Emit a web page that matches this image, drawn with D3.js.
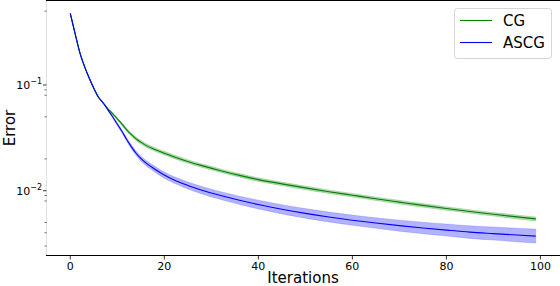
<!DOCTYPE html>
<html>
<head>
<meta charset="utf-8">
<script src="https://cdn.jsdelivr.net/npm/d3@7"></script>
<style>
  body { margin: 0; background: #fff; }
  svg { display: block; font-family: "DejaVu Sans", sans-serif; }
</style>
</head>
<body>
<div id="chart"></div>
<script>
const iters = [0,1,2,3,4,5,6,7,8,9,10,11,12,13,14,15,16,18,20,22,25,28,32,36,40,45,50,55,60,65,70,75,80,85,90,95,99];

const cgErr = [0.476,0.309,0.205,0.151,0.117,0.0933,0.0767,0.0676,
  0.0596,0.0537,0.0479,0.0427,0.0376,0.0339,0.0309,0.0288,0.0270,
  0.02455,0.02265,0.02099,0.01892,0.01726,0.01545,0.01396,0.01274,
  0.01161,0.01064,0.00979,0.00906,0.00839,0.00780,0.00726,0.00678,0.00635,0.00598,0.00565,
  0.00541];

const ascgErr = [0.476,0.309,0.205,0.151,0.117,0.0933,0.0767,0.0676,
  0.0582,0.0501,0.0427,0.0363,0.0305,0.0260,0.0226,0.02018,0.01841,
  0.01596,0.01406,0.01268,0.01122,0.01012,0.00899,0.00811,0.00740,
  0.00667,0.00610,0.00564,0.00526,0.00494,0.00467,0.00444,0.00424,0.00406,0.00393,0.00381,
  0.00372];

// relative half-width of the shaded band
const cgSpread = [0.005,0.005,0.005,0.005,0.005,0.005,0.008,0.01,
  0.015,0.02,0.025,0.03,0.035,0.035,0.04,0.04,0.04,
  0.04,0.04,0.04,0.04,0.04,0.04,0.04,0.04,
  0.04,0.04,0.04,0.04,0.04,0.04,0.04,0.04,0.04,0.04,0.045,
  0.045];

const ascgSpread = [0.005,0.005,0.005,0.005,0.005,0.005,0.008,0.01,
  0.015,0.02,0.03,0.035,0.04,0.045,0.05,0.055,0.06,
  0.065,0.07,0.075,0.08,0.085,0.09,0.095,0.10,
  0.105,0.11,0.113,0.117,0.122,0.128,0.134,0.14,0.147,0.153,0.16,
  0.165];

const xTicks = [0, 20, 40, 60, 80, 100];
const yMajor = [0.1, 0.01];
const yMinor = [0.5, 0.09, 0.08, 0.05, 0.02, 0.009, 0.008, 0.005, 0.004, 0.003];

const series = [
  {name: "CG", values: cgErr, spread: cgSpread, color: "#008000"},
  {name: "ASCG", values: ascgErr, spread: ascgSpread, color: "#0000ff"}
];

const width = 560, height = 286;
const svg = d3.select("#chart").append("svg")
  .attr("width", width)
  .attr("height", height);

const x = d3.scaleLinear().domain([-4.95, 103.95]).range([47, 559]);
const y = d3.scaleLog().domain([Math.pow(10, -2.613), Math.pow(10, -0.2006)]).range([255.5, 0.5]);

// bands
series.forEach(s => {
  const pts = iters.map((it, i) => ({
    it: it,
    lo: s.values[i] / (1 + s.spread[i]),
    hi: s.values[i] * (1 + s.spread[i])
  }));
  svg.append("path")
    .datum(pts)
    .attr("fill", s.color)
    .attr("fill-opacity", 0.3)
    .attr("stroke", s.color)
    .attr("stroke-opacity", 0.3)
    .attr("stroke-width", 0.5)
    .attr("d", d3.area()
      .x(d => x(d.it))
      .y0(d => y(d.lo))
      .y1(d => y(d.hi))
      .curve(d3.curveMonotoneX));
});

// lines
series.forEach(s => {
  svg.append("path")
    .datum(iters.map((it, i) => [it, s.values[i]]))
    .attr("fill", "none")
    .attr("stroke", s.color)
    .attr("stroke-width", 1.1)
    .attr("d", d3.line()
      .x(d => x(d[0]))
      .y(d => y(d[1]))
      .curve(d3.curveMonotoneX));
});

// spines
svg.append("line").attr("x1", 46.5).attr("x2", 46.5).attr("y1", 0).attr("y2", 256)
  .attr("stroke", "#e0e0e0").attr("stroke-width", 1);
svg.append("line").attr("x1", 46).attr("x2", 560).attr("y1", 0.5).attr("y2", 0.5)
  .attr("stroke", "#000").attr("stroke-width", 1.2);
svg.append("line").attr("x1", 46).attr("x2", 560).attr("y1", 255.5).attr("y2", 255.5)
  .attr("stroke", "#000").attr("stroke-width", 1.2);

// x ticks
const xg = svg.append("g");
xTicks.forEach(t => {
  xg.append("line").attr("x1", x(t)).attr("x2", x(t)).attr("y1", 256).attr("y2", 259.5)
    .attr("stroke", "#000").attr("stroke-width", 0.8);
  xg.append("text").attr("x", x(t)).attr("y", 269.5)
    .attr("text-anchor", "middle").attr("font-size", 11).text(t);
});

// y ticks
const yg = svg.append("g");
yMinor.forEach(t => {
  yg.append("line").attr("x1", 44.5).attr("x2", 46.5).attr("y1", y(t)).attr("y2", y(t))
    .attr("stroke", "#000").attr("stroke-width", 0.6);
});
yMajor.forEach(t => {
  yg.append("line").attr("x1", 43).attr("x2", 46.5).attr("y1", y(t)).attr("y2", y(t))
    .attr("stroke", "#000").attr("stroke-width", 0.8);
  const lbl = yg.append("text").attr("x", 42).attr("y", y(t) + 4)
    .attr("text-anchor", "end").attr("font-size", 11);
  lbl.append("tspan").text("10");
  lbl.append("tspan").attr("font-size", 8).attr("dy", -5)
    .text("\u2212" + Math.round(-Math.log10(t)));
});

// axis labels
svg.append("text").attr("x", 303).attr("y", 282.5)
  .attr("text-anchor", "middle").attr("font-size", 15).text("Iterations");
svg.append("text").attr("transform", "translate(15,128) rotate(-90)")
  .attr("text-anchor", "middle").attr("font-size", 15).text("Error");

// legend
const lg = svg.append("g");
lg.append("rect").attr("x", 454.5).attr("y", 8.5).attr("width", 97).attr("height", 50)
  .attr("rx", 3).attr("fill", "#fff").attr("fill-opacity", 0.8)
  .attr("stroke", "#d6d6d6").attr("stroke-width", 1);
series.forEach((s, i) => {
  const ly = 20.5 + i * 22;
  lg.append("line").attr("x1", 460).attr("x2", 492).attr("y1", ly).attr("y2", ly)
    .attr("stroke", s.color).attr("stroke-width", 1.1);
  lg.append("text").attr("x", 503).attr("y", ly + 5.5)
    .attr("font-size", 15).text(s.name);
});
</script>
</body>
</html>
